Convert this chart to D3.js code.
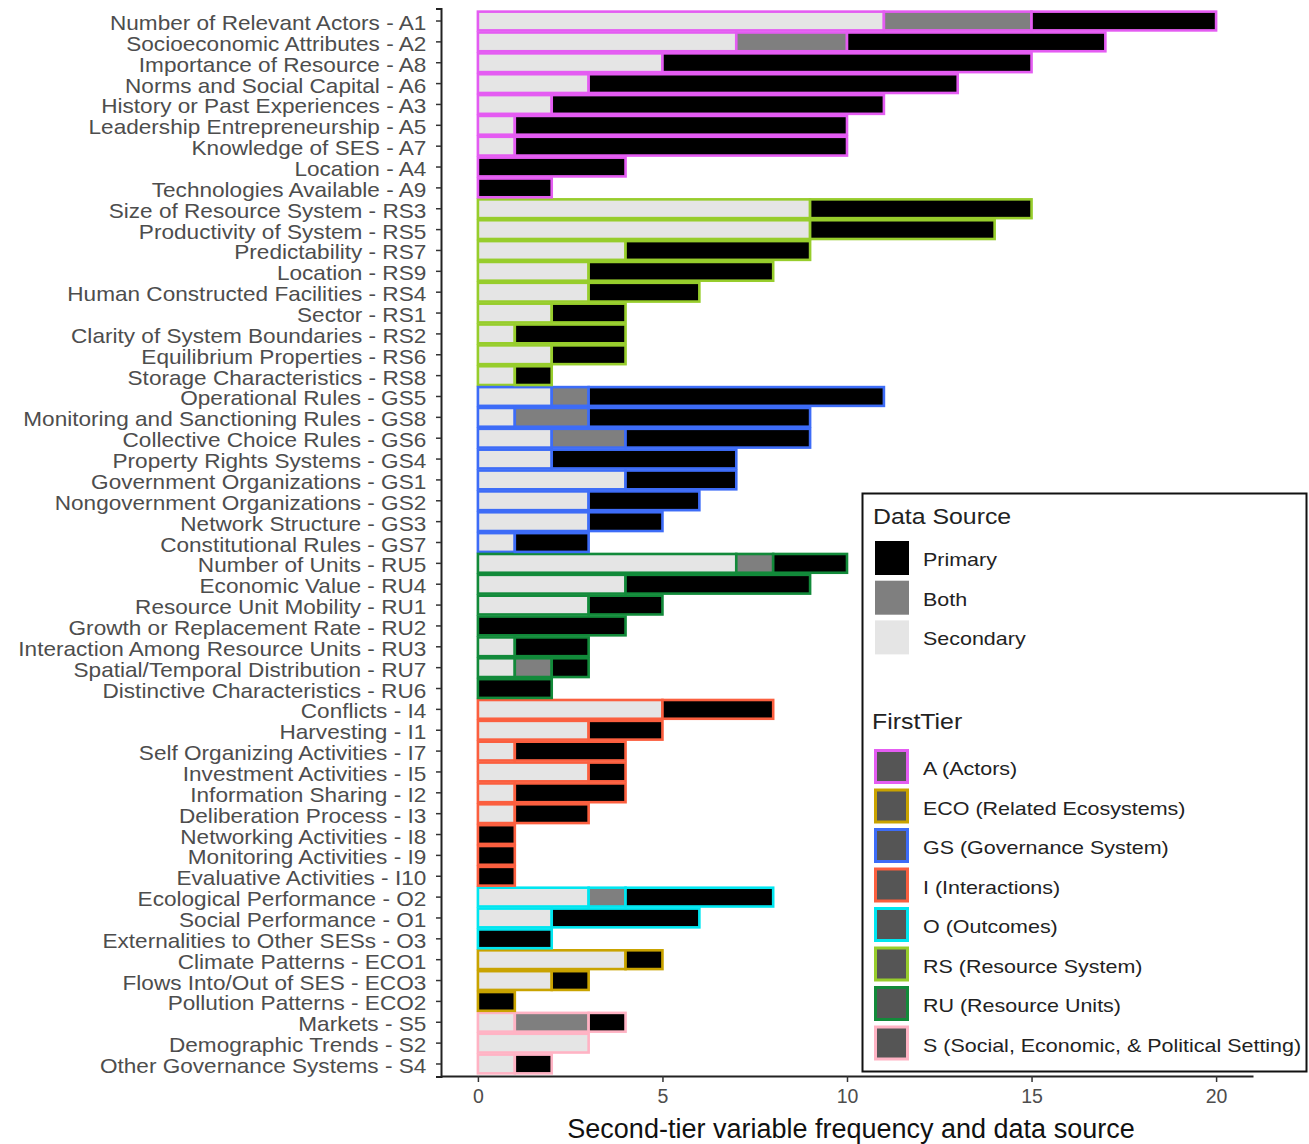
<!DOCTYPE html>
<html>
<head>
<meta charset="utf-8">
<script src="https://cdn.jsdelivr.net/npm/d3@7"></script>
<style>
  html, body { margin: 0; padding: 0; background: #fff; }
  text { font-family: "Liberation Sans", Arial, sans-serif; }
</style>
</head>
<body>
<svg id="chart" width="1309" height="1144"></svg>
<script>
// Second-tier SES variables, top to bottom
const variables = [
  "Number of Relevant Actors - A1", "Socioeconomic Attributes - A2", "Importance of Resource - A8",
  "Norms and Social Capital - A6", "History or Past Experiences - A3", "Leadership Entrepreneurship - A5",
  "Knowledge of SES - A7", "Location - A4", "Technologies Available - A9",
  "Size of Resource System - RS3", "Productivity of System - RS5", "Predictability - RS7",
  "Location - RS9", "Human Constructed Facilities - RS4", "Sector - RS1",
  "Clarity of System Boundaries - RS2", "Equilibrium Properties - RS6", "Storage Characteristics - RS8",
  "Operational Rules - GS5", "Monitoring and Sanctioning Rules - GS8", "Collective Choice Rules - GS6",
  "Property Rights Systems - GS4", "Government Organizations - GS1", "Nongovernment Organizations - GS2",
  "Network Structure - GS3", "Constitutional Rules - GS7",
  "Number of Units - RU5", "Economic Value - RU4", "Resource Unit Mobility - RU1",
  "Growth or Replacement Rate - RU2", "Interaction Among Resource Units - RU3",
  "Spatial/Temporal Distribution - RU7", "Distinctive Characteristics - RU6",
  "Conflicts - I4", "Harvesting - I1", "Self Organizing Activities - I7", "Investment Activities - I5",
  "Information Sharing - I2", "Deliberation Process - I3", "Networking Activities - I8",
  "Monitoring Activities - I9", "Evaluative Activities - I10",
  "Ecological Performance - O2", "Social Performance - O1", "Externalities to Other SESs - O3",
  "Climate Patterns - ECO1", "Flows Into/Out of SES - ECO3", "Pollution Patterns - ECO2",
  "Markets - S5", "Demographic Trends - S2", "Other Governance Systems - S4"
];
// First-tier system of each variable
const firstTier = [
  "A","A","A","A","A","A","A","A","A",
  "RS","RS","RS","RS","RS","RS","RS","RS","RS",
  "GS","GS","GS","GS","GS","GS","GS","GS",
  "RU","RU","RU","RU","RU","RU","RU",
  "I","I","I","I","I","I","I","I","I",
  "O","O","O",
  "ECO","ECO","ECO",
  "S","S","S"
];
// Frequency by data source
const secondary = [11,7,5,3,2,1,1,0,0, 9,9,4,3,3,2,1,2,1, 2,1,2,2,4,3,3,1, 7,4,3,0,1,1,0, 5,3,1,3,1,1,0,0,0, 3,2,0, 4,2,0, 1,3,1];
const both      = [ 4,3,0,0,0,0,0,0,0, 0,0,0,0,0,0,0,0,0, 1,2,2,0,0,0,0,0, 1,0,0,0,0,1,0, 0,0,0,0,0,0,0,0,0, 1,0,0, 0,0,0, 2,0,0];
const primary   = [ 5,7,10,10,9,9,9,4,2, 6,5,5,5,3,2,3,2,1, 8,6,5,5,3,3,2,2, 2,5,2,4,2,1,2, 3,2,3,1,3,2,1,1,1, 4,4,2, 1,1,1, 1,0,1];

const sourceKeys = ["Primary", "Both", "Secondary"];
const sourceFill = ["#000000", "#7f7f7f", "#e5e5e5"];
const tierKeys = ["A", "ECO", "GS", "I", "O", "RS", "RU", "S"];
const tierLabels = ["A (Actors)", "ECO (Related Ecosystems)", "GS (Governance System)", "I (Interactions)",
  "O (Outcomes)", "RS (Resource System)", "RU (Resource Units)", "S (Social, Economic, & Political Setting)"];
const tierColors = ["#e45cf2", "#c9a300", "#3d6cf7", "#fb5f3f", "#00e6f0", "#97cd2c", "#128a3a", "#ffb3c4"];
const xTicks = [0, 5, 10, 15, 20];
const xTitle = "Second-tier variable frequency and data source";

const rows = variables.map((v, i) => ({
  name: v, tier: firstTier[i],
  Secondary: secondary[i], Both: both[i], Primary: primary[i]
}));

const svg = d3.select("#chart");
const stretch = "scale(1.13,1)";
const textGray = "#4d4d4d";

const x = d3.scaleLinear().domain([-1, 21]).range([441, 1253]);
const y = d3.scaleBand().domain(variables).range([8.5, 1076.5]).paddingInner(0.1).paddingOuter(0.15);
const tierColor = d3.scaleOrdinal().domain(tierKeys).range(tierColors);
const fillColor = d3.scaleOrdinal().domain(sourceKeys).range(sourceFill);

// stacked segments: secondary from zero, then both, then primary
const stack = d3.stack().keys(["Secondary", "Both", "Primary"]);
const series = stack(rows);

const barG = svg.append("g");
series.forEach(s => {
  barG.selectAll(null)
    .data(s.filter(d => d[1] - d[0] > 0))
    .join("rect")
    .attr("x", d => x(d[0]))
    .attr("width", d => x(d[1]) - x(d[0]))
    .attr("y", d => y(d.data.name))
    .attr("height", y.bandwidth())
    .attr("fill", fillColor(s.key))
    .attr("stroke", d => tierColor(d.data.tier))
    .attr("stroke-width", 2.6);
});

// y axis
const yAxis = svg.append("g")
  .attr("transform", "translate(441,0)")
  .call(d3.axisLeft(y).tickSize(5).tickPadding(8));
yAxis.select(".domain").attr("stroke", "#222").attr("stroke-width", 2);
yAxis.selectAll(".tick line").attr("stroke", "#333").attr("stroke-width", 1.5);
yAxis.selectAll(".tick text")
  .attr("fill", textGray)
  .attr("dy", "0.45em")
  .style("font-size", "20px")
  .attr("transform", stretch);

// x axis
const xAxis = svg.append("g")
  .attr("transform", "translate(0,1076)")
  .call(d3.axisBottom(x).tickValues(xTicks).tickSize(6).tickPadding(7).tickSizeOuter(0));
xAxis.select(".domain").attr("stroke", "#222").attr("stroke-width", 2);
xAxis.selectAll(".tick line").attr("stroke", "#333").attr("stroke-width", 1.5);
xAxis.selectAll(".tick text")
  .attr("fill", textGray)
  .style("font-size", "19.5px");

svg.append("text")
  .attr("x", 851).attr("y", 1138)
  .attr("text-anchor", "middle")
  .attr("fill", "#111")
  .style("font-size", "27px")
  .text(xTitle);

// legend
const lg = svg.append("g");
lg.append("rect")
  .attr("x", 862.5).attr("y", 493.5).attr("width", 444).attr("height", 578)
  .attr("fill", "#fff").attr("stroke", "#111").attr("stroke-width", 2);

lg.append("text").attr("transform", "translate(873,524) " + stretch)
  .attr("fill", "#222").style("font-size", "22px").text("Data Source");

sourceKeys.forEach((k, i) => {
  const yy = 541 + i * 39.7;
  lg.append("rect").attr("x", 875).attr("y", yy).attr("width", 34).attr("height", 34)
    .attr("fill", fillColor(k));
  lg.append("text").attr("transform", `translate(923,${yy + 25}) ${stretch}`)
    .attr("fill", "#222").style("font-size", "19px").text(k);
});

lg.append("text").attr("transform", "translate(872,729) " + stretch)
  .attr("fill", "#222").style("font-size", "22px").text("FirstTier");

tierKeys.forEach((k, i) => {
  const yy = 750 + i * 39.5;
  lg.append("rect").attr("x", 875.5).attr("y", yy + 0.5).attr("width", 32).attr("height", 32)
    .attr("fill", "#555555").attr("stroke", tierColor(k)).attr("stroke-width", 3);
  lg.append("text").attr("transform", `translate(923,${yy + 25}) ${stretch}`)
    .attr("fill", "#222").style("font-size", "19px").text(tierLabels[i]);
});
</script>
</body>
</html>
